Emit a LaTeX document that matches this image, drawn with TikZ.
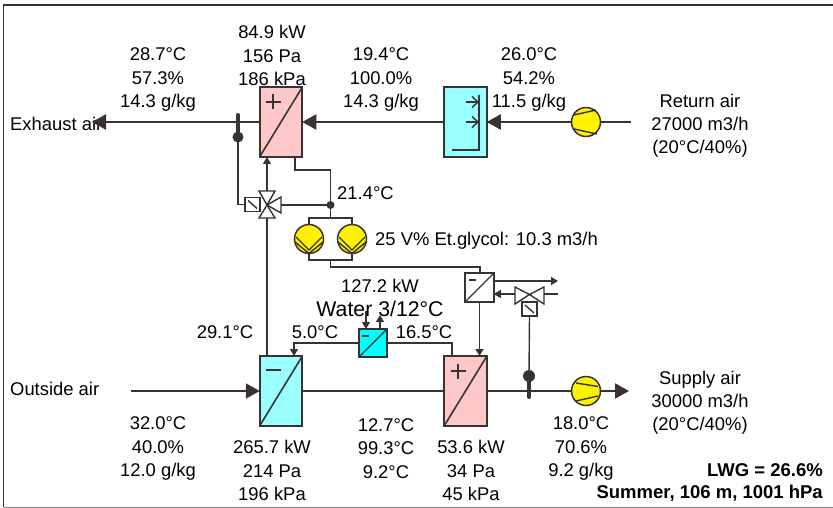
\documentclass[tikz,border=0pt]{standalone}
\usepackage{fontspec}
\setmainfont{Liberation Sans}
\usetikzlibrary{arrows.meta, positioning}
\definecolor{linedark}{HTML}{383232}
\definecolor{coilpink}{HTML}{FFC8C8}
\definecolor{coilcyan}{HTML}{99FFFF}
\definecolor{watercyan}{HTML}{00FFFF}
\tikzset{
    lbl/.style={align=center, inner sep=0pt, text=black, font=\fontsize{18.4}{23.2}\selectfont},
    coil/.style={draw=linedark, line width=1.8pt, inner sep=0pt, outer sep=0pt, minimum width=42.5pt, minimum height=69.5pt},
    smallhx/.style={draw=linedark, line width=1.8pt, inner sep=0pt, outer sep=0pt, minimum size=28.5pt},
    fan/.style={draw=linedark, circle, fill=yellow, line width=1.5pt, inner sep=0pt, outer sep=0pt, minimum size=29pt},
    actuator/.style={draw=linedark, fill=white, line width=1.3pt, inner sep=0pt, outer sep=0pt, minimum width=15pt, minimum height=14pt},
    dotnode/.style={circle, fill=linedark, inner sep=0pt, outer sep=0pt, minimum size=#1},
    airline/.style={draw=linedark, line width=2.2pt},
    pipe/.style={draw=linedark, line width=1.4pt},
    bigtip/.style={-{Triangle[length=14pt,width=15pt]}},
    smalltip/.style={-{Triangle[length=7pt,width=8pt]}}
}
\begin{document}
\begin{tikzpicture}[x=1pt, y=-1pt]
\useasboundingbox (0,0) rectangle (833,508);

% Frame
\draw[linedark, line width=1.8pt] (833,5) -- (3.5,5) -- (3.5,507);
\draw[gray, line width=1pt] (3.5,507) -- (833,507);

% Labels
\node[lbl, anchor=west] (lblExhaust) at (10,123.5) {Exhaust air};
\node[lbl] (lblA) at (158,79.5) {28.7°C\\57.3\%\\14.3 g/kg};
\node[lbl] (lblB) at (272,55.5) {84.9 kW\\156 Pa\\186 kPa};
\node[lbl] (lblC) at (381,79.5) {19.4°C\\100.0\%\\14.3 g/kg};
\node[lbl] (lblD) at (529,79.5) {26.0°C\\54.2\%\\11.5 g/kg};
\node[lbl] (lblReturn) at (700,125.5) {Return air\\27000 m3/h\\(20°C/40\%)};
\node[lbl, anchor=west] (lblMix) at (337,193.5) {21.4°C};
\node[lbl, anchor=west] (lblGlycol) at (375,240.5) {25 V\% Et.glycol: 10.3 m3/h};
\node[lbl] (lblPower) at (380,285.5) {127.2 kW};
\node[lbl, font=\fontsize{21.3}{24}\selectfont] (lblWater) at (380,309) {Water 3/12°C};
\node[lbl] (lblE) at (225,332.5) {29.1°C};
\node[lbl] (lblF) at (315,332.5) {5.0°C};
\node[lbl] (lblG) at (424,332.5) {16.5°C};
\node[lbl, anchor=west] (lblOutside) at (10,388.5) {Outside air};
\node[lbl] (lblSupply) at (700,402.5) {Supply air\\30000 m3/h\\(20°C/40\%)};
\node[lbl] (lblH) at (158,448.5) {32.0°C\\40.0\%\\12.0 g/kg};
\node[lbl] (lblI) at (272,470.5) {265.7 kW\\214 Pa\\196 kPa};
\node[lbl] (lblJ) at (386,448.5) {12.7°C\\99.3°C\\9.2°C};
\node[lbl] (lblK) at (471,470.5) {53.6 kW\\34 Pa\\45 kPa};
\node[lbl] (lblL) at (581,448.5) {18.0°C\\70.6\%\\9.2 g/kg};
\node[lbl, anchor=east, font=\fontsize{18.5}{20}\selectfont\bfseries] (lblLwg) at (823,470.5) {LWG = 26.6\%};
\node[lbl, anchor=east, font=\fontsize{18.5}{20}\selectfont\bfseries] (lblSummer) at (823,493.5) {Summer, 106 m, 1001 hPa};

% Coils and exchangers
\node[coil, fill=coilpink] (coilExhaust) at (281,122) {};
\node[coil, fill=coilcyan] (boxRecovery) at (465.5,122) {};
\node[coil, fill=coilcyan] (coilCool) at (281,391) {};
\node[coil, fill=coilpink] (coilHeat) at (465.5,391) {};
\node[smallhx, fill=white] (hxGlycol) at (479.5,287.5) {};
\node[smallhx, fill=watercyan] (hxWater) at (373,343) {};

% Fans and pumps
\node[fan] (fanReturn) at (586,122) {};
\node[fan] (fanSupply) at (586,391) {};
\node[fan] (pumpA) at (309,239) {};
\node[fan] (pumpB) at (352,239) {};

% Sensor bulbs and junction
\node[dotnode=11pt] (bulbExhaust) at (238,137) {};
\node[dotnode=12pt] (bulbSupply) at (529,376) {};
\node[dotnode=8pt] (junction) at (330.5,205) {};

% Actuators
\node[actuator] (actExhaust) at (252.5,204.5) {};
\node[actuator] (actSupply) at (529.5,309) {};

% Free ends
\coordinate (endExhaust) at (92,122);
\coordinate (endReturn) at (631,122);
\coordinate (endOutside) at (131,391);
\coordinate (endSupply) at (629,391);
\coordinate (endGlycolOut) at (558,281);
\coordinate (endGlycolIn) at (558,294);
\coordinate (valveA) at (267,205);
\coordinate (valveB) at (529.5,294.5);

% Air lines
\draw[airline, bigtip] (coilExhaust.west) -- (endExhaust);
\draw[airline, bigtip] (boxRecovery.west) -- (coilExhaust.east);
\draw[airline, bigtip] (fanReturn.west) -- (boxRecovery.east);
\draw[airline] (endReturn) -- (fanReturn.east);
\draw[airline, bigtip] (endOutside) -- (coilCool.west);
\draw[airline] (coilCool.east) -- (coilHeat.west);
\draw[airline] (coilHeat.east) -- (fanSupply.west);
\draw[airline, bigtip] (fanSupply.east) -- (endSupply);

% Sensors
\draw[linedark, line width=4pt, line cap=round] (bulbExhaust.center) -- (238,115);
\draw[linedark, line width=4pt, line cap=round] (bulbSupply.center) -- (529,397);
\draw[pipe] (bulbExhaust.center) -- (238,204.5) -- (actExhaust.west);
\draw[pipe] (bulbSupply.center) -- (actSupply.south);

% Diagonals and signs
\draw[pipe, line width=1.6pt] (coilExhaust.south west) -- (coilExhaust.north east);
\draw[pipe, line width=1.6pt] (coilCool.south west) -- (coilCool.north east);
\draw[pipe, line width=1.6pt] (coilHeat.south west) -- (coilHeat.north east);
\draw[pipe] (hxGlycol.south west) -- (hxGlycol.north east);
\draw[pipe] (hxWater.south west) -- (hxWater.north east);
\draw[pipe] (265.5,102) -- (280.5,102) (273,94.5) -- (273,109.5);
\draw[pipe] (450.5,371) -- (465.5,371) (458,363.5) -- (458,378.5);
\draw[pipe] (266,370) -- (281,370);
\draw[pipe] (469,280) -- (476,280);
\draw[pipe] (362,336) -- (369,336);

% Recovery box inner part
\draw[pipe] (479,95) -- (479,150) -- (452,150);
\draw[pipe, -{Straight Barb[length=6pt,width=11pt]}] (466,102) -- (479,102);
\draw[pipe, -{Straight Barb[length=6pt,width=11pt]}] (466,122) -- (479,122);

% Fan blades
\draw[pipe] (574,115) -- (596,110);
\draw[pipe] (574,129) -- (597,134);
\draw[pipe] (576,383) -- (598,386.5);
\draw[pipe] (576,401) -- (598,396);

% Pump blades
\draw[pipe] (296,237) -- (309,250) -- (322,237);
\draw[pipe] (295,242) -- (309,253.5) -- (323,242);
\draw[pipe] (339,237) -- (352,250) -- (365,237);
\draw[pipe] (338,242) -- (352,253.5) -- (366,242);

% Mixing valve
\draw[pipe, fill=white] (valveA) -- (259,191) -- (275,191) -- cycle;
\draw[pipe, fill=white] (valveA) -- (259,218) -- (275,218) -- cycle;
\draw[pipe, fill=white] (valveA) -- (281,197) -- (281,213) -- cycle;
\draw[pipe] (actExhaust.north west) ++(3,3) -- ++(9,8);

% Supply valve
\draw[pipe, fill=white] (valveB) -- (515,287) -- (515,304) -- cycle;
\draw[pipe, fill=white] (valveB) -- (544,287) -- (544,304) -- cycle;
\draw[pipe] (actSupply.north west) ++(3,3) -- ++(9,8);

% Pipes
\draw[pipe, smalltip] (267,191) -- (267,157);
\draw[pipe] (267,218) -- (267,357);
\draw[pipe] (295,157) -- (295,170) -- (330.5,170) -- (junction.north);
\draw[pipe] (junction.west) -- (281,205);
\draw[pipe] (junction.south) -- (330.5,218);
\draw[pipe] (309,224.5) -- (309,218) -- (352,218) -- (352,224.5);
\draw[pipe] (309,253.5) -- (309,260) -- (352,260) -- (352,253.5);
\draw[pipe] (330.5,260) -- (330.5,267) -- (480,267) -- (480,273);
\draw[pipe, smalltip] (479.5,302) -- (479.5,356);
\draw[pipe, smalltip] (hxGlycol.east |- endGlycolOut) -- (endGlycolOut);
\draw[pipe] (endGlycolIn) -- (544,294);
\draw[pipe, smalltip] (515,294) -- (hxGlycol.east |- endGlycolIn);
\draw[pipe, smalltip] (hxWater.west) -- (294,343) -- (294,356);
\draw[pipe] (hxWater.east) -- (452,343) -- (452,356);
\draw[pipe, smalltip] (366,311) -- (366,329);
\draw[pipe, smalltip] (380,329) -- (380,315);

\end{tikzpicture}
\end{document}
